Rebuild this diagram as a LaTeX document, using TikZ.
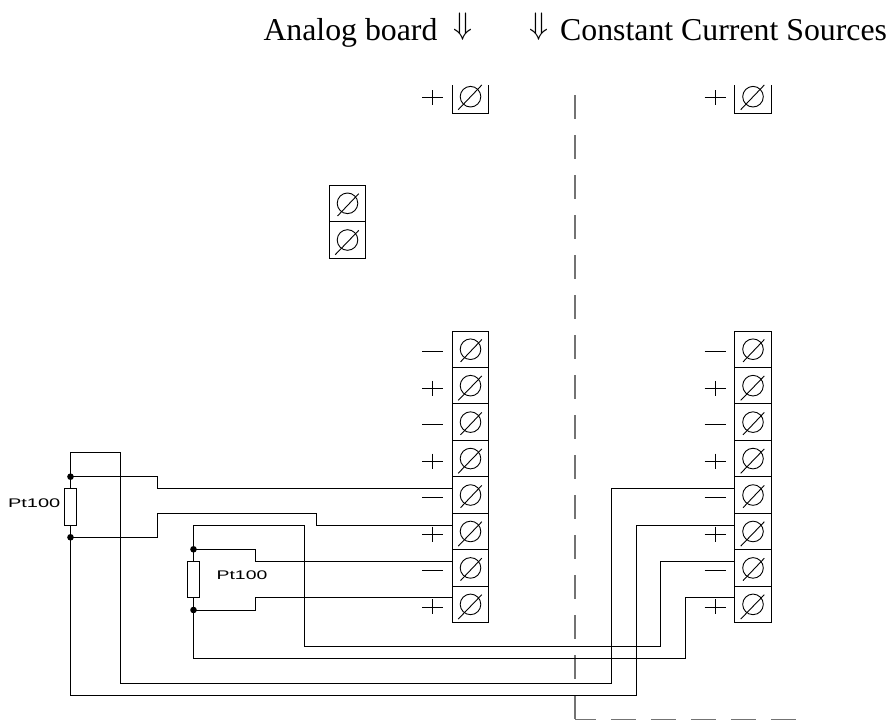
\documentclass[tikz,border=0pt]{standalone}
\usepackage{graphicx}
\usepackage{fontspec}
\setmainfont{Liberation Serif}
\newfontfamily\labelfont{Liberation Sans}
\newcommand{\myterm}[4]{%
  \node[termbox] (#1) at (#2,#3) {};
  \draw[thin line,shift={(#1.center)}] (0,0) circle (10.3);
  \ifnum#4=0
    \draw[thin line,shift={(#1.center)}] (-10,12.7) -- (11.3,-9.7);
  \else
    \draw[thin line,shift={(#1.center)}] (-12.3,14.7) -- (11.3,-9.7);
  \fi
}
\newcommand{\mysign}[3]{%
  \ifnum#3=1
    \draw[thin line] (#1-10.5,#2) -- (#1+10.5,#2) (#1,#2-7.5) -- (#1,#2+7.5);
  \else
    \draw[thin line] (#1-10.5,#2) -- (#1+10.5,#2);
  \fi
}
\tikzset{
  thin line/.style={line width=0.9pt,black},
  wire/.style={line width=1pt,black,line join=miter},
  termbox/.style={draw,line width=1pt,rectangle,minimum width=36.6pt,minimum height=36.45pt,inner sep=0pt,outer sep=0pt},
  resistor/.style={draw,line width=1pt,rectangle,minimum width=11.6pt,minimum height=36.6pt,inner sep=0pt,outer sep=0pt},
  junction/.style={circle,fill=black,inner sep=0pt,minimum size=6.6pt},
  boundary/.style={line width=1.1pt,black!55},
  heading/.style={anchor=base west,inner sep=0pt,font=\fontsize{31.8pt}{34pt}\selectfont},
  ptlabel/.style={inner sep=0pt,font=\fontsize{12.5pt}{14pt}\labelfont},
  downarrow/.style={inner sep=0pt},
}
\begin{document}
\begin{tikzpicture}[x=1pt,y=-1pt]
\useasboundingbox (0,0) rectangle (889,720);
% headings
\node[heading] (hA) at (263.3,40.7) {Analog board};
\node[downarrow] (aA) at (463.3,26.7) {\resizebox{19pt}{!}{$\Downarrow$}};
\node[downarrow] (aB) at (539.3,26.7) {\resizebox{19pt}{!}{$\Downarrow$}};
\node[heading] (hB) at (560,40.7) {Constant Current Sources};
% boundary
\draw[boundary,dash pattern=on 24.4pt off 15.6pt] (575,95) -- (575,719.4);
\draw[boundary,dash pattern=on 25pt off 15pt,dash phase=4pt] (575,719.3) -- (797,719.3);
% terminals
\foreach \col/\xx/\sx/\nm in {0/470.5/432.8/L,1/753/715/R}{
  \foreach \i/\s/\pl in {1/0/0,2/1/1,3/0/0,4/1/1,5/0/0,6/1/1,7/0/0,8/1/1}{
    \pgfmathsetmacro{\yy}{312.78+\i*36.45}
    \myterm{\nm\i}{\xx}{\yy}{\s}
    \pgfmathsetmacro{\sy}{\yy+2.6}
    \mysign{\sx}{\sy}{\pl}
  }
  % partly shown terminal at the top
  \draw[line width=1pt] (\xx-18.3,85) -- (\xx-18.3,113) -- (\xx+18.3,113) -- (\xx+18.3,85);
  \draw[thin line] (\xx,96.7) circle (10.3);
  \draw[thin line] (\xx-12.3,109.7) -- (\xx+11.3,85);
  \mysign{\sx}{97.7}{1}
}
\myterm{T1}{347.5}{203.3}{0}
\myterm{T2}{347.5}{240}{1}
% resistors
\node[resistor] (R1) at (70.5,507) {};
\node[resistor] (R2) at (193.5,579.6) {};
\node[ptlabel,xscale=1.6] (P1) at (34.2,502.7) {Pt100};
\node[ptlabel,xscale=1.55] (P2) at (242,575.3) {Pt100};
% junctions
\node[junction] (j1) at (70.5,476.7) {};
\node[junction] (j2) at (70.5,537.3) {};
\node[junction] (j3) at (193.5,549.3) {};
\node[junction] (j4) at (193.5,610) {};
% connection points on the terminals
\coordinate (L5w) at (452.2,488.7);
\coordinate (L6w) at (452.2,525.3);
\coordinate (L7w) at (452.2,561.3);
\coordinate (L8w) at (452.2,597.8);
\coordinate (R5w) at (734.7,488.7);
\coordinate (R6w) at (734.7,525.3);
\coordinate (R7w) at (734.7,561.3);
\coordinate (R8w) at (734.7,597.8);
% wires
\draw[wire] (R1.north) -- (j1.center);
\draw[wire] (R1.south) -- (j2.center);
\draw[wire] (R2.north) -- (j3.center);
\draw[wire] (R2.south) -- (j4.center);
\draw[wire] (j1.center) -- (157.3,476.7) -- (157.3,488.7) -- (L5w);
\draw[wire] (j2.center) -- (157.3,537.3) -- (157.3,513) -- (316.7,513) -- (316.7,525.3) -- (L6w);
\draw[wire] (j3.center) -- (255.7,549.3) -- (255.7,561.3) -- (L7w);
\draw[wire] (j4.center) -- (255.7,610) -- (255.7,597.8) -- (L8w);
\draw[wire] (j1.center) -- (70.5,452.3) -- (120.3,452.3) -- (120.3,683) -- (611.7,683) -- (611.7,488.7) -- (R5w);
\draw[wire] (j2.center) -- (70.5,695) -- (636,695) -- (636,525.3) -- (R6w);
\draw[wire] (j3.center) -- (193.5,525.3) -- (304.7,525.3) -- (304.7,646.7) -- (660.7,646.7) -- (660.7,561.3) -- (R7w);
\draw[wire] (j4.center) -- (193.5,658.7) -- (685.7,658.7) -- (685.7,597.8) -- (R8w);
\end{tikzpicture}
\end{document}
